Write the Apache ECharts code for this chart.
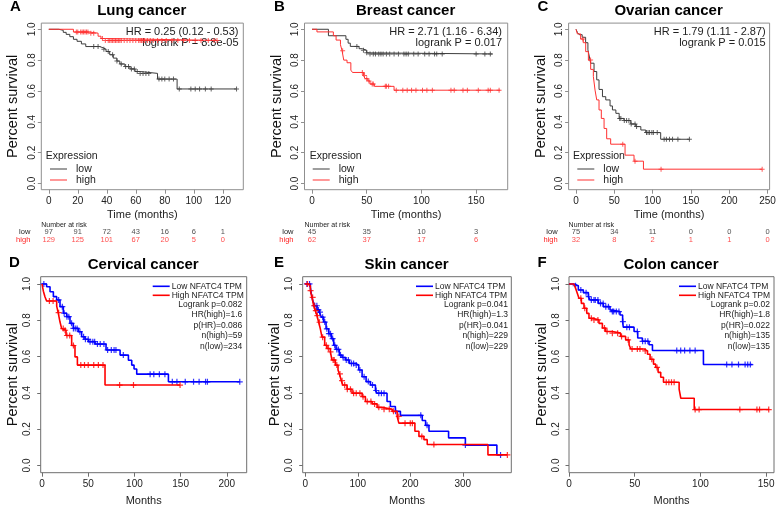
<!DOCTYPE html>
<html><head><meta charset="utf-8">
<script src="https://cdn.jsdelivr.net/npm/echarts@6/dist/echarts.min.js"></script>
<style>html,body{margin:0;padding:0;background:#fff}#c{width:784px;height:508px}</style>
</head><body><div id="c"></div>
<script>
// ---------------- DATA ----------------
// Kaplan-Meier step points [time (months), survival]
const lowA  = [[0,1],[7,0.993],[10,0.98],[12,0.967],[14.5,0.952],[17,0.935],[19.5,0.922],[22.5,0.905],[25.5,0.888],[35,0.88],[37.5,0.87],[39.5,0.856],[42,0.835],[44.5,0.813],[47,0.794],[49,0.775],[52.5,0.758],[56,0.743],[59.5,0.726],[63,0.714],[75,0.677],[88.5,0.613],[129.5,0.613]];
const highA = [[0,1],[17,0.982],[28,0.975],[34,0.955],[36,0.94],[39,0.928],[116,0.928]];
const lowCensA  = [31,34,38,41,44,47,50,53,55,57,59,61,63,65,67,69,76,78,80,83,86,90,98,101,104,108,112,129.5];
const highCensA = [19,20,22,23,24,25,26,27,29,31,37,39,41,42,43,44,45,46,47,48,49,50,52,54,56,58,60,62,63,64,65,66,68,70,72,75,78,81,85,89,93,97,101,105,110,114,116];
const ticksA = [0,20,40,60,80,100,120];
const riskTimesA = [0,20,40,60,80,100,120];
const riskLowA  = [97,91,72,43,16,6,1];
const riskHighA = [129,125,101,67,20,5,0];
const hrA = ['HR = 0.25 (0.12 - 0.53)','logrank P = 8.8e-05'];

const lowB  = [[0,1],[15,0.958],[31,0.935],[33,0.91],[35,0.889],[43,0.874],[46,0.864],[50,0.847],[52,0.84],[165,0.84]];
const highB = [[0,1],[4.5,0.983],[19.5,0.958],[22,0.93],[26,0.9],[27.5,0.86],[29,0.8],[32,0.783],[35.5,0.735],[37,0.72],[47,0.7],[48.5,0.68],[51,0.665],[53,0.645],[57,0.63],[75,0.605],[172,0.605]];
const lowCensB  = [41,47,50,53,56,58,61,63,65,68,71,75,79,84,86,88,93,97,103,107,112,114,119,150,158,163];
const highCensB = [28,46,48,50,52,55,56,67,68,70,77,83,87,91,95,101,105,110,127,130,138,142,152,161,163,171];
const ticksB = [0,50,100,150];
const riskTimesB = [0,50,100,150];
const riskLowB  = [45,35,10,3];
const riskHighB = [62,37,17,6];
const hrB = ['HR = 2.71 (1.16 - 6.34)','logrank P = 0.017'];

const lowC  = [[0,1],[1.7,0.98],[4,0.965],[8,0.948],[12.5,0.913],[15.5,0.866],[17.5,0.82],[19,0.78],[23.5,0.726],[27,0.672],[30,0.61],[34.5,0.563],[38.8,0.542],[44.4,0.503],[47.5,0.477],[52,0.455],[56.3,0.422],[62.6,0.408],[71.5,0.386],[78,0.369],[84.6,0.347],[91,0.33],[110.5,0.287],[148.4,0.287]];
const highC = [[0,1],[1.7,0.97],[6,0.937],[9.4,0.913],[12.6,0.855],[16.1,0.8],[19.1,0.74],[22.6,0.694],[24.8,0.606],[27,0.542],[30,0.477],[33,0.422],[36.6,0.357],[40,0.29],[45.2,0.255],[64,0.184],[75.7,0.145],[88,0.093],[243,0.093]];
const lowCensC  = [57,58.5,63,66,69,72,77,79,92,94,96,99,101,106,115,118,122,126,133,148];
const highCensC = [9,19,61,77,111,243];
const ticksC = [0,50,100,150,200,250];
const riskTimesC = [0,50,100,150,200,250];
const riskLowC  = [75,34,11,0,0,0];
const riskHighC = [32,8,2,1,1,0];
const hrC = ['HR = 1.79 (1.11 - 2.87)','logrank P = 0.015'];

const lowD  = [[0,1],[5,0.985],[8.7,0.957],[12.3,0.93],[15.9,0.912],[19.5,0.875],[23.1,0.839],[26.7,0.82],[30.3,0.783],[33.9,0.755],[39.3,0.737],[42.9,0.709],[46.5,0.695],[50.2,0.682],[57.4,0.669],[69.3,0.636],[84.5,0.608],[93.5,0.58],[97.1,0.553],[99.6,0.531],[102.5,0.503],[136.8,0.461],[214,0.461]];
const highD = [[0,1],[1.5,0.96],[3.2,0.93],[5,0.906],[15.9,0.878],[17.5,0.842],[19.5,0.79],[21.3,0.754],[23.1,0.745],[26,0.716],[32.1,0.661],[35.7,0.598],[38.3,0.553],[68.2,0.443],[149.4,0.443]];
const lowCensD  = [2,18,22,24,27,29,32,34,36,38,41,45,47,50,52,55,57,60,63,67,71,75,78,80,88,117,121,127,133,141,146,155,164,170,177,179,214];
const highCensD = [8,12,18,23,25,27,30,34,42,46,50,56,61,66,84,99,149.4];
const ticksD = [0,50,100,150,200];
const statsD = ['Logrank p=0.082','HR(high)=1.6','p(HR)=0.086','n(high)=59','n(low)=234'];

const lowE  = [[0,1],[9.6,0.981],[11.5,0.945],[14.1,0.908],[17.9,0.88],[22.3,0.857],[26.8,0.845],[30.6,0.817],[35,0.79],[39.5,0.753],[44.6,0.726],[49.6,0.699],[54.1,0.662],[58.5,0.639],[64.9,0.608],[70,0.595],[76.3,0.581],[84,0.562],[95.4,0.553],[101.8,0.526],[108.2,0.489],[115.8,0.462],[124,0.443],[133.6,0.413],[136.8,0.398],[155.7,0.352],[162.1,0.325],[171.6,0.298],[181.2,0.276],[222.8,0.248],[229.2,0.221],[235.6,0.188],[273,0.152],[305,0.112],[365,0.058],[375,0.058]];
const highE = [[0,1],[5,0.99],[9.6,0.963],[12.7,0.926],[15.9,0.88],[19,0.853],[22.3,0.825],[25.4,0.789],[28.6,0.753],[31.8,0.707],[36.9,0.662],[41.3,0.644],[47.7,0.626],[50.8,0.581],[57.2,0.553],[62.3,0.526],[64.9,0.504],[68.7,0.467],[71.2,0.443],[79.5,0.42],[89,0.398],[108.2,0.379],[114.5,0.352],[127.3,0.339],[136.8,0.32],[146.4,0.31],[165.5,0.298],[175,0.27],[178.2,0.233],[208.8,0.188],[216.5,0.16],[226,0.142],[232.3,0.115],[348,0.058],[385,0.058]];
const lowCensE  = [3,8,18,22,25,28,33,37,41,45,48,52,56,60,63,67,72,78,82,88,92,97,104,112,120,128,135,140,145,150,172,220,232,305,372];
const highCensE = [4,10,14,17,20,23,27,33,40,44,48,53,55,60,66,70,75,80,86,92,97,104,110,118,125,132,140,150,160,168,178,190,200,204,222,245,385];
const ticksE = [0,100,200,300];
const statsE = ['Logrank p=0.041','HR(high)=1.3','p(HR)=0.041','n(high)=229','n(low)=229'];

const lowF  = [[0,1],[3.7,0.99],[7.1,0.967],[10.9,0.952],[14.7,0.93],[16,0.912],[22.3,0.893],[26.1,0.875],[31.2,0.857],[32.5,0.848],[38.8,0.829],[40.8,0.793],[41.3,0.762],[49.5,0.738],[52.3,0.702],[55.8,0.684],[60.9,0.665],[63.5,0.633],[102.3,0.556],[139.6,0.556]];
const highF = [[0,1],[3.7,0.99],[5,0.976],[6.3,0.949],[7.6,0.921],[9.4,0.893],[11.4,0.866],[13.5,0.838],[15.2,0.811],[17.8,0.802],[22.8,0.783],[25.4,0.757],[27.9,0.738],[33,0.729],[39.3,0.711],[43.1,0.692],[45.7,0.665],[47,0.642],[57.1,0.631],[59.7,0.613],[61.7,0.585],[64.3,0.558],[66,0.54],[67.8,0.513],[69.8,0.486],[71.9,0.458],[83.8,0.42],[85.1,0.37],[95.3,0.308],[152.4,0.308]];
const lowCensF  = [5,9,13,15,17,19,20,22,24,26,28,30,33,34,36,38,41,44,46,52,56,58,60,82,85,88,92,96,120,124,129,134,136,138];
const highCensF = [9,12,17,19,22,27,29,33,37,40,45,48,52,54,58,63,67,74,76,78,80,96,99,130,143,145,152];
const ticksF = [0,50,100,150];
const statsF = ['Logrank p=0.02','HR(high)=1.8','p(HR)=0.022','n(high)=135','n(low)=135'];

const yTicks = [0,0.2,0.4,0.6,0.8,1];
const riskRows = ['high','low'];

// ---------------- PANELS ----------------
const panels = [
  {key:'A', title:'Lung cancer', kind:'top', low:lowA, high:highA, lc:lowCensA, hc:highCensA, ticks:ticksA, rt:riskTimesA, rl:riskLowA, rh:riskHighA, txt:hrA},
  {key:'B', title:'Breast cancer', kind:'top', low:lowB, high:highB, lc:lowCensB, hc:highCensB, ticks:ticksB, rt:riskTimesB, rl:riskLowB, rh:riskHighB, txt:hrB},
  {key:'C', title:'Ovarian cancer', kind:'top', low:lowC, high:highC, lc:lowCensC, hc:highCensC, ticks:ticksC, rt:riskTimesC, rl:riskLowC, rh:riskHighC, txt:hrC},
  {key:'D', title:'Cervical cancer', kind:'bot', low:lowD, high:highD, lc:lowCensD, hc:highCensD, ticks:ticksD, txt:statsD},
  {key:'E', title:'Skin cancer', kind:'bot', low:lowE, high:highE, lc:lowCensE, hc:highCensE, ticks:ticksE, txt:statsE},
  {key:'F', title:'Colon cancer', kind:'bot', low:lowF, high:highF, lc:lowCensF, hc:highCensF, ticks:ticksF, txt:statsF}
];
const layout = {
  A:{left:41.3, width:202, xr:[-5.16,134.16], letter:[15.5,7], txtRight:238.5, legLeft:50, exprX:45.7},
  B:{left:304.5, width:203.2, xr:[-6.88,178.88], letter:[279.5,7], txtRight:502, legLeft:312.7, exprX:309.7},
  C:{left:568.6, width:201, xr:[-9.72,252.72], letter:[543,7], txtRight:765.7, legLeft:577.3, exprX:573},
  D:{left:40.7, width:206, xr:[-1.4,221.5], letter:[14.5,262.5], txtRight:242.3, legLeft:152.7},
  E:{left:302.7, width:208.6, xr:[-5,392.5], letter:[279,262.5], txtRight:508, legLeft:416},
  F:{left:569, width:205, xr:[0,156], letter:[542,262.5], txtRight:770, legLeft:679}
};

const FONT = "'Liberation Sans', Arial, Helvetica, sans-serif";
const PLUS = 'path://M4,0H6V4H10V6H6V10H4V6H0V4H4Z';

function survAt(curve, t) {
  let s = 1;
  for (const [tt, ss] of curve) { if (tt <= t) s = ss; else break; }
  return s;
}

const option = {animation:false, textStyle:{fontFamily:FONT}, grid:[], xAxis:[], yAxis:[], series:[], legend:[], graphic:[]};

panels.forEach(p => {
  const L = layout[p.key];
  const top = p.kind === 'top';
  const gTop = top ? 23.1 : 276.7, gH = top ? 166.6 : 196;
  const gi = option.grid.length;
  const lowCol = top ? '#3c3c3c' : '#0000ff';
  const highCol = top ? '#ff3030' : '#ff0000';
  const lowName = top ? 'low' : 'Low NFATC4 TPM';
  const highName = top ? 'high' : 'High NFATC4 TPM';
  const lw = top ? 1 : 1.6;
  const axCol = top ? '#8f8f8f' : '#6e6e6e';
  option.grid.push({left:L.left, top:gTop, width:L.width, height:gH, show:true, borderColor:axCol, borderWidth:1});
  option.xAxis.push({gridIndex:gi, type:'value', min:L.xr[0], max:L.xr[1], position:'bottom',
    axisLine:{show:false, onZero:false}, splitLine:{show:false},
    axisTick:{show:true, customValues:p.ticks, length:4, lineStyle:{color:axCol}},
    axisLabel:{customValues:p.ticks, fontSize:10, color:'#222', margin:7},
    name: top ? 'Time (months)' : 'Months', nameLocation:'middle', nameGap: top ? 20 : 23,
    nameTextStyle:{fontSize:11, color:'#222'}});
  option.yAxis.push({gridIndex:gi, type:'value', min:-0.04, max:1.04, position:'left',
    axisLine:{show:false, onZero:false}, splitLine:{show:false},
    axisTick:{show:true, customValues:yTicks, length:3.5, lineStyle:{color:axCol}},
    axisLabel:{customValues:yTicks, rotate:90, fontSize:10, color:'#222', margin: top ? 4 : 8, formatter: v => v.toFixed(1)},
    name:'Percent survival', nameLocation:'middle', nameGap: top ? 20.5 : 20,
    nameTextStyle:{fontSize:14.5, color:'#111'}});
  option.series.push(
    {name:lowName, type:'line', xAxisIndex:gi, yAxisIndex:gi, step:'end', showSymbol:false, symbol:'none', data:p.low,
     lineStyle:{color:lowCol, width:lw}, itemStyle:{color:lowCol}, z:3},
    {name:highName, type:'line', xAxisIndex:gi, yAxisIndex:gi, step:'end', showSymbol:false, symbol:'none', data:p.high,
     lineStyle:{color:highCol, width:lw}, itemStyle:{color:highCol}, z:4},
    {name:lowName+' censored', type:'scatter', xAxisIndex:gi, yAxisIndex:gi, symbol:PLUS, symbolSize: top ? 5 : 6,
     data:p.lc.map(t => [t, survAt(p.low, t)]), itemStyle:{color:lowCol}, z:3},
    {name:highName+' censored', type:'scatter', xAxisIndex:gi, yAxisIndex:gi, symbol:PLUS, symbolSize: top ? 5 : 6,
     data:p.hc.map(t => [t, survAt(p.high, t)]), itemStyle:{color:highCol}, z:4}
  );
  // legend
  if (top) {
    option.legend.push({data:[lowName, highName], orient:'vertical', left:L.legLeft, top:163.5, padding:0, icon:'rect',
      itemWidth:17, itemHeight:1, itemGap:0, selectedMode:false,
      textStyle:{fontSize:10.5, lineHeight:11, color:'#222', padding:[0,0,0,4]}});
    option.graphic.push({type:'text', x:L.exprX, y:155.7, style:{text:'Expression', font:'10.5px '+FONT, fill:'#222', textAlign:'left', textVerticalAlign:'middle'}});
  } else {
    option.legend.push({data:[lowName, highName], orient:'vertical', left:L.legLeft, top:281.8, padding:0, icon:'rect',
      itemWidth:17, itemHeight:1.6, itemGap:0, selectedMode:false,
      textStyle:{fontSize:8.5, lineHeight:7.7, color:'#222', padding:[0,0,0,-3]}});
  }
  // titles & letters
  option.graphic.push({type:'text', x:L.left + L.width/2 - 0.5, y: top ? 10.7 : 265,
    style:{text:p.title, font:'bold 15px '+FONT, fill:'#000', textAlign:'center', textVerticalAlign:'middle'}});
  option.graphic.push({type:'text', x:L.letter[0], y:L.letter[1],
    style:{text:p.key, font:'bold 15px '+FONT, fill:'#000', textAlign:'center', textVerticalAlign:'middle'}});
  // annotation text
  if (top) {
    option.graphic.push({type:'text', x:L.txtRight, y:26.5,
      style:{text:p.txt.join('\n'), font:'11px '+FONT, lineHeight:11, fill:'#222', textAlign:'right', textVerticalAlign:'top'}});
  } else {
    option.graphic.push({type:'text', x:L.txtRight, y:299,
      style:{text:p.txt.join('\n'), font:'8.5px '+FONT, lineHeight:10.6, fill:'#222', textAlign:'right', textVerticalAlign:'top'}});
  }
  // risk table
  if (top) {
    const ri = option.grid.length;
    option.grid.push({left:L.left, top:228, width:L.width, height:16, show:false});
    option.xAxis.push({gridIndex:ri, type:'value', min:L.xr[0], max:L.xr[1], show:false});
    option.yAxis.push({gridIndex:ri, type:'category', data:riskRows, axisLine:{show:false}, axisTick:{show:false},
      axisLabel:{interval:0, hideOverlap:false, margin:11, fontSize:7.5, formatter: v => '{' + v + '|' + v + '}',
        rich:{low:{color:'#222', fontSize:7.5}, high:{color:'#ff2020', fontSize:7.5}}}});
    option.series.push(
      {name:'risk low '+p.key, type:'scatter', xAxisIndex:ri, yAxisIndex:ri, symbolSize:0,
       data:p.rt.map((t,i) => [t, 'low', p.rl[i]]),
       label:{show:true, position:'inside', formatter: q => String(q.value[2]), fontSize:7.5, color:'#222'}},
      {name:'risk high '+p.key, type:'scatter', xAxisIndex:ri, yAxisIndex:ri, symbolSize:0,
       data:p.rt.map((t,i) => [t, 'high', p.rh[i]]),
       label:{show:true, position:'inside', formatter: q => String(q.value[2]), fontSize:7.5, color:'#ff2020'}}
    );
    option.graphic.push({type:'text', x:L.left, y:225, style:{text:'Number at risk', font:'7px '+FONT, fill:'#222', textAlign:'left', textVerticalAlign:'middle'}});
  }
});

const chart = echarts.init(document.getElementById('c'), null, {renderer:'canvas'});
chart.setOption(option);
</script></body></html>
